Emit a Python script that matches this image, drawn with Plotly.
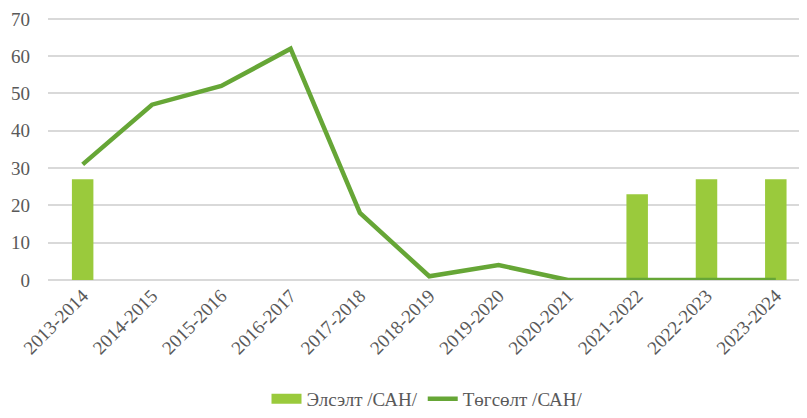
import plotly.graph_objects as go

categories = ["2013-2014", "2014-2015", "2015-2016", "2016-2017", "2017-2018", "2018-2019",
              "2019-2020", "2020-2021", "2021-2022", "2022-2023", "2023-2024"]
enroll = [27, 0, 0, 0, 0, 0, 0, 0, 23, 27, 27]
graduate = [31, 47, 52, 62, 18, 1, 4, 0, 0, 0, 0]
y_ticks = [0, 10, 20, 30, 40, 50, 60, 70]

FONT = "Tinos, Liberation Serif, Times New Roman, Noto Serif, serif"
grey = "#595959"
bar_color = "#9ACA3C"
line_color = "#66A636"

fig = go.Figure()
fig.add_trace(go.Bar(
    x=categories, y=enroll, name="Элсэлт /САН/", showlegend=False,
    marker=dict(color=bar_color, line=dict(width=0)), width=0.31,
))
fig.add_trace(go.Scatter(
    x=[None], y=[None], name="Элсэлт /САН/", mode="lines",
    line=dict(color=bar_color, width=11),
))
fig.add_trace(go.Scatter(
    x=categories, y=graduate, name="Төгсөлт /САН/", mode="lines",
    line=dict(color=line_color, width=4.5),
))

fig.update_layout(
    width=799, height=410,
    margin=dict(l=40, r=0, t=9, b=138, autoexpand=False),
    paper_bgcolor="white", plot_bgcolor="white",
    font=dict(family=FONT, size=19, color=grey),
    showlegend=True,
    legend=dict(orientation="h", x=0.5, xanchor="center", yref="container", y=0.0, yanchor="bottom",
                font=dict(family=FONT, size=19, color=grey), itemwidth=30, tracegroupgap=0),
    bargap=0.69,
)
fig.update_xaxes(
    type="category", range=[-0.5, 10.45], tickangle=-45, automargin=False,
    showgrid=False, showline=False, ticks="", tickfont=dict(family=FONT, size=19, color=grey),
)
fig.update_yaxes(
    range=[0, 70.5], tickvals=y_ticks, showgrid=True, gridcolor="#D9D9D9", gridwidth=1.5,
    zeroline=True, zerolinecolor="#D9D9D9", zerolinewidth=1.5, automargin=False,
    showline=False, ticks="", tickfont=dict(family=FONT, size=19, color=grey), ticklabelstandoff=17,
    ticklabeloverflow="allow",
)

fig.write_html("out.html")
